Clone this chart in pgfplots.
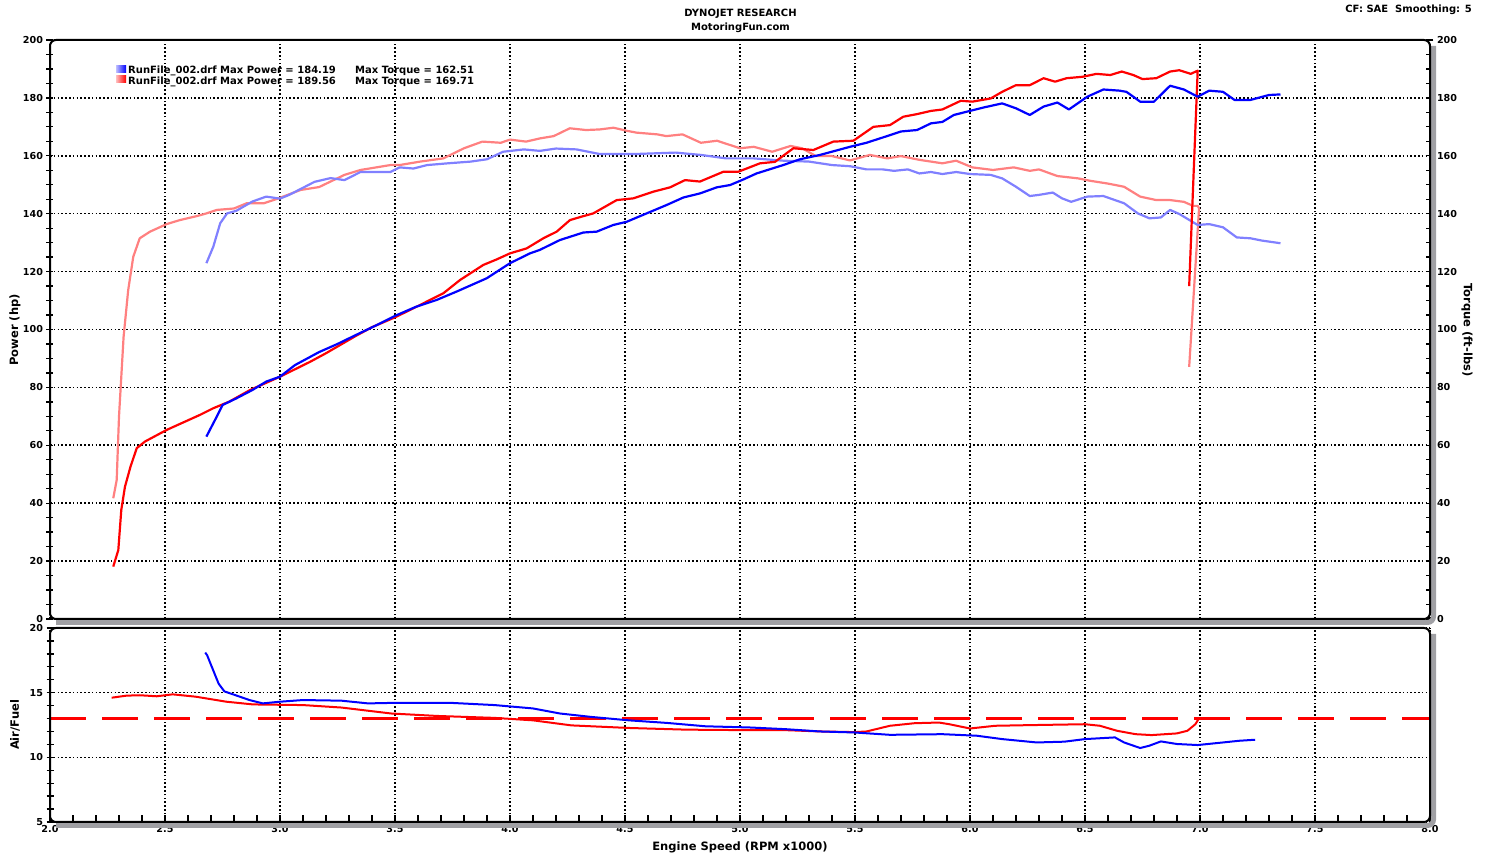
\documentclass[border=0pt]{standalone}
\usepackage{fontspec}
\setmainfont{DejaVu Sans}
\usepackage{pgfplots}
\pgfplotsset{compat=1.18}

\definecolor{pwrblue}{RGB}{0,0,255}
\definecolor{trqblue}{RGB}{128,128,255}
\definecolor{pwrred}{RGB}{255,0,0}
\definecolor{trqred}{RGB}{255,128,128}
\definecolor{shadowgray}{RGB}{160,160,164}

\pgfplotsset{
  dyno/.style={
    scale only axis, anchor=south west,
    width=1380pt, xmin=2, xmax=8,
    axis line style={draw=none},
    tick style={black, line width=1.3pt},
    ticklabel style={font=\bfseries\fontsize{9.6}{11}\selectfont},
    /pgf/number format/assume math mode=true,
    grid style={black, line width=1.6pt, dash pattern=on 1.6pt off 2.2pt},
  },
  trq/.style={line width=2.2pt, line join=round},
}

\begin{document}
\begin{tikzpicture}
\useasboundingbox (0,0) rectangle (1489pt,859pt);

% torque axis (right scale), carries the grid
\begin{axis}[dyno, at={(50pt,240pt)}, height=579pt,
  ymin=0, ymax=200, ytick={0,20,...,200}, minor y tick num=3,
  ytick pos=right, yticklabel pos=right, tick align=center,
  major tick length=7pt, minor tick length=7pt,
  xtick={2,2.5,...,8}, xticklabels={}, major x tick style={draw=none},
  xmajorgrids, ymajorgrids]
\addplot[trq, color=trqred] coordinates {
(2.275,41.7) (2.29,48) (2.30,69.9) (2.32,97.5) (2.34,113.6) (2.362,125.1) (2.39,131.5)
(2.435,133.8) (2.507,136.4) (2.565,137.8) (2.64,139.2) (2.68,140.1) (2.725,141.3) (2.80,141.8)
(2.855,143.6) (2.93,143.6) (2.99,145.2) (3.09,148.2) (3.17,149.2) (3.28,153.4) (3.35,155.1)
(3.48,156.8) (3.52,156.8) (3.61,158.0) (3.71,159.1) (3.80,162.6) (3.88,164.9) (3.96,164.5)
(4.0,165.6) (4.07,164.9) (4.13,166.0) (4.19,166.8) (4.26,169.5) (4.33,168.9) (4.39,169.1)
(4.45,169.7) (4.51,168.6) (4.55,168.0) (4.64,167.4) (4.68,166.8) (4.75,167.4) (4.83,164.5)
(4.90,165.2) (5.0,162.6) (5.06,163.1) (5.14,161.4) (5.22,163.4) (5.27,162.6) (5.33,159.9)
(5.40,159.9) (5.478,158.4) (5.565,160.3) (5.64,159.1) (5.70,159.9) (5.78,158.6) (5.88,157.4)
(5.94,158.3) (6.01,156.0) (6.10,155.1) (6.19,156.0) (6.26,154.8) (6.30,155.3) (6.38,153.0)
(6.47,152.2) (6.52,151.4) (6.60,150.4) (6.67,149.3) (6.74,145.9) (6.81,144.7) (6.87,144.7)
(6.93,144.1) (6.97,142.7) (6.99,142.7) (6.996,141.9) (6.953,87.1)};
\addplot[trq, color=trqblue] coordinates {
(2.68,122.9) (2.71,128.6) (2.74,136.7) (2.77,140.1) (2.81,141.0) (2.88,144.2) (2.94,145.9)
(3.0,145.2) (3.04,146.5) (3.15,151.0) (3.22,152.3) (3.28,151.6) (3.35,154.4) (3.48,154.4)
(3.52,156.0) (3.58,155.6) (3.64,156.8) (3.73,157.4) (3.83,158.0) (3.90,158.8) (3.97,161.4)
(4.06,162.2) (4.13,161.7) (4.20,162.5) (4.29,162.2) (4.39,160.6) (4.54,160.6) (4.72,161.1)
(4.83,160.3) (4.94,159.1) (5.06,159.1) (5.19,158.3) (5.30,158.0) (5.40,156.8) (5.478,156.4)
(5.55,155.3) (5.62,155.3) (5.67,154.8) (5.73,155.3) (5.78,153.9) (5.83,154.4) (5.88,153.7)
(5.94,154.4) (6.0,153.7) (6.09,153.4) (6.14,152.2) (6.20,149.3) (6.26,146.1) (6.30,146.5)
(6.36,147.3) (6.40,145.3) (6.44,144.1) (6.51,145.9) (6.58,146.1) (6.67,143.6) (6.73,140.1)
(6.78,138.4) (6.83,138.7) (6.87,141.3) (6.91,139.9) (6.99,136.1) (7.04,136.4) (7.10,135.3)
(7.16,131.8) (7.22,131.5) (7.27,130.7) (7.35,129.8)};
\end{axis}

% power axis (left scale)
\begin{axis}[dyno, at={(50pt,240pt)}, height=579pt,
  ymin=0, ymax=200, ytick={0,20,...,200}, minor y tick num=3,
  ytick pos=left, tick align=center,
  major tick length=7pt, minor tick length=7pt,
  xtick=\empty]
\addplot[trq, color=pwrred] coordinates {
(2.275,18.1) (2.297,23.8) (2.31,37.7) (2.326,45.7) (2.35,52.6) (2.377,59.0) (2.413,61.3)
(2.507,65.3) (2.652,70.5) (2.71,72.8) (2.78,75.1) (2.87,79.1) (3.0,83.7) (3.13,88.8)
(3.20,91.8) (3.33,97.8) (3.40,100.8) (3.50,104.2) (3.61,108.5) (3.652,110.2) (3.71,112.5)
(3.783,117.1) (3.884,122.3) (3.942,124.2) (4.0,126.3) (4.072,128.0) (4.145,131.5) (4.203,133.8)
(4.261,137.8) (4.312,139.0) (4.362,140.1) (4.464,144.7) (4.536,145.3) (4.623,147.6) (4.696,149.1)
(4.761,151.6) (4.826,151.1) (4.928,154.5) (4.993,154.5) (5.087,157.4) (5.152,157.9) (5.232,162.6)
(5.319,162.0) (5.406,164.9) (5.493,165.2) (5.58,170.0) (5.652,170.6) (5.71,173.5) (5.77,174.4)
(5.83,175.5) (5.88,176.0) (5.96,179.0) (6.01,178.7) (6.09,179.8) (6.14,182.1) (6.20,184.4)
(6.26,184.4) (6.32,186.8) (6.37,185.6) (6.42,186.8) (6.49,187.3) (6.55,188.3) (6.61,187.9)
(6.66,189.1) (6.71,187.9) (6.75,186.5) (6.81,186.8) (6.87,189.1) (6.91,189.56) (6.96,188.3)
(6.99,189.4) (6.953,115.0)};
\addplot[trq, color=pwrblue] coordinates {
(2.68,63.0) (2.725,69.9) (2.75,73.9) (2.81,76.2) (2.88,79.1) (2.94,82.0) (3.0,83.7)
(3.065,87.7) (3.17,92.2) (3.25,95.0) (3.33,98.1) (3.42,101.5) (3.5,104.7) (3.59,107.8)
(3.681,110.2) (3.768,113.1) (3.899,117.7) (4.0,122.9) (4.087,126.3) (4.13,127.5) (4.217,130.9)
(4.319,133.5) (4.377,133.8) (4.449,136.1) (4.507,137.2) (4.594,140.1) (4.681,143.0) (4.754,145.6)
(4.826,147.0) (4.899,149.1) (4.957,149.9) (5.014,151.8) (5.072,153.9) (5.188,156.8) (5.261,158.8)
(5.348,160.3) (5.478,163.1) (5.55,164.5) (5.62,166.3) (5.70,168.4) (5.77,168.9) (5.83,171.2)
(5.88,171.7) (5.93,174.1) (6.0,175.5) (6.06,176.7) (6.14,178.1) (6.20,176.4) (6.26,174.1)
(6.32,177.0) (6.38,178.4) (6.43,176.0) (6.51,180.4) (6.58,182.9) (6.65,182.5) (6.68,182.1)
(6.74,178.7) (6.80,178.7) (6.87,184.2) (6.93,182.9) (6.99,180.4) (7.04,182.5) (7.10,182.1)
(7.15,179.3) (7.22,179.3) (7.30,181.0) (7.35,181.2)};
\end{axis}

% air/fuel axis
\begin{axis}[dyno, at={(50pt,37pt)}, height=194pt,
  ymin=5, ymax=20, ytick={5,10,15,20}, minor y tick num=4,
  ytick pos=left, ytick align=center,
  xtick={2,2.5,...,8}, minor x tick num=4, xtick pos=bottom, xtick align=inside,
  major tick length=7pt, minor tick length=7pt,
  xticklabel style={/pgf/number format/.cd, fixed, fixed zerofill, precision=1},
  xmajorgrids, ymajorgrids]
\addplot[line width=3pt, color=pwrred, dash pattern=on 36pt off 16pt] coordinates {(2,13) (8,13)};
\addplot[line width=2pt, color=pwrred] coordinates {
(2.268,14.61) (2.333,14.77) (2.391,14.8) (2.464,14.72) (2.533,14.87) (2.633,14.69) (2.767,14.3)
(2.883,14.09) (3.1,14.04) (3.267,13.85) (3.483,13.39) (3.683,13.2) (3.933,13.05) (4.1,12.86)
(4.267,12.47) (4.517,12.27) (4.767,12.14) (5.04,12.1) (5.2,12.1) (5.35,12.0) (5.5,11.95)
(5.55,12.0) (5.652,12.44) (5.76,12.64) (5.865,12.69) (5.91,12.56) (6.0,12.23) (6.11,12.44)
(6.26,12.49) (6.5,12.56) (6.565,12.44) (6.64,12.05) (6.72,11.79) (6.79,11.72) (6.9,11.85)
(6.945,12.05) (6.98,12.56) (6.995,13.0)};
\addplot[line width=2pt, color=pwrblue] coordinates {
(2.675,18.1) (2.683,17.9) (2.708,16.8) (2.733,15.7) (2.758,15.1) (2.817,14.74) (2.867,14.43)
(2.925,14.17) (3.0,14.3) (3.1,14.43) (3.267,14.38) (3.383,14.17) (3.517,14.22) (3.733,14.22)
(3.933,14.04) (4.1,13.78) (4.217,13.39) (4.35,13.13) (4.517,12.86) (4.683,12.66) (4.85,12.4)
(5.04,12.31) (5.196,12.18) (5.348,12.0) (5.5,11.92) (5.652,11.74) (5.88,11.79) (6.03,11.67)
(6.14,11.41) (6.29,11.15) (6.41,11.21) (6.5,11.41) (6.63,11.54) (6.67,11.15) (6.74,10.72)
(6.78,10.9) (6.83,11.23) (6.9,11.03) (6.99,10.95) (7.1,11.15) (7.17,11.28) (7.24,11.36)};
\end{axis}

% panel frames with shadow
\draw[shadowgray, line width=5pt, rounded corners=6pt] (56pt,236.5pt) -- (1433.5pt,236.5pt) -- (1433.5pt,813pt);
\draw[black, line width=2pt, rounded corners=6pt] (50pt,240pt) rectangle (1430pt,819pt);
\draw[shadowgray, line width=5pt, rounded corners=6pt] (56pt,33.5pt) -- (1433.5pt,33.5pt) -- (1433.5pt,225pt);
\draw[black, line width=2pt, rounded corners=6pt] (50pt,37pt) rectangle (1430pt,231pt);

% titles and labels
\begin{scope}[every node/.style={font=\bfseries\fontsize{10}{12}\selectfont, inner sep=0pt}]
\node[anchor=base] at (740.5pt,842pt) {DYNOJET RESEARCH};
\node[anchor=base] at (740.5pt,828pt) {MotoringFun.com};
\node[anchor=base east] at (1472pt,846.5pt) {CF: SAE\ \ Smoothing: 5};
\node[rotate=90, font=\bfseries\fontsize{11.5}{13}\selectfont] at (15pt,529pt) {Power (hp)};
\node[rotate=-90, font=\bfseries\fontsize{11.5}{13}\selectfont] at (1467pt,529pt) {Torque (ft-lbs)};
\node[rotate=90, font=\bfseries\fontsize{11.5}{13}\selectfont] at (15pt,134pt) {Air/Fuel};
\node[anchor=base, font=\bfseries\fontsize{11.5}{13}\selectfont] at (740pt,8pt) {Engine Speed (RPM x1000)};
\shade[left color=pwrblue!25, right color=pwrblue] (116pt,786.5pt) rectangle (126pt,793.5pt);
\shade[left color=pwrred!25, right color=pwrred] (116pt,776pt) rectangle (126pt,783pt);
\node[anchor=base west] at (128pt,785pt) {RunFile\_002.drf Max Power = 184.19};
\node[anchor=base west] at (355pt,785pt) {Max Torque = 162.51};
\node[anchor=base west] at (128pt,774.5pt) {RunFile\_002.drf Max Power = 189.56};
\node[anchor=base west] at (355pt,774.5pt) {Max Torque = 169.71};
\end{scope}
\end{tikzpicture}
\end{document}
